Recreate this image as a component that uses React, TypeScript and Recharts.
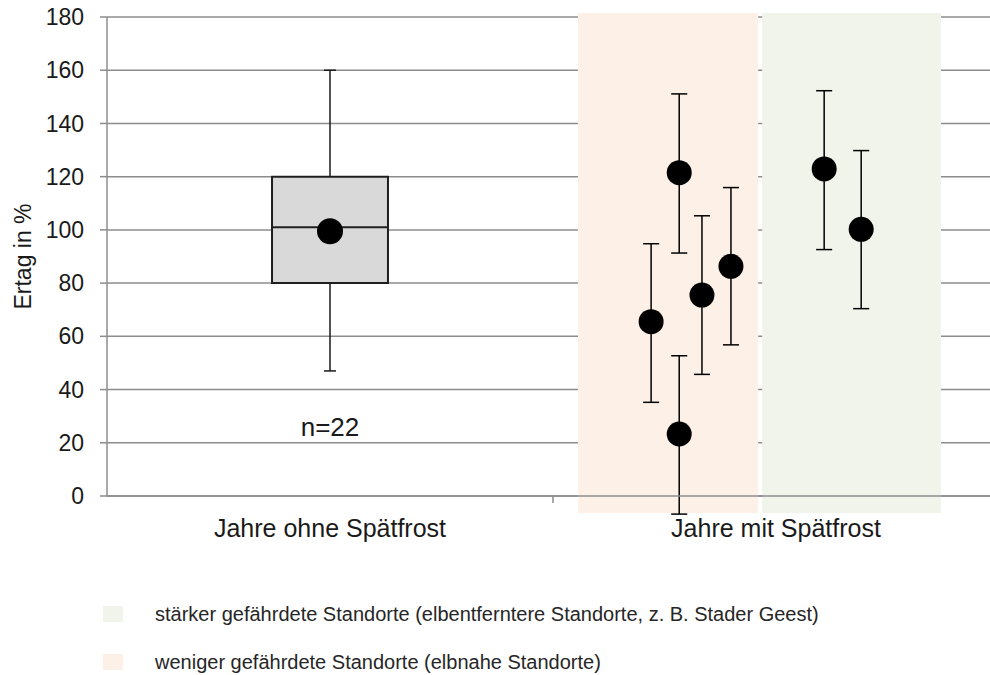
import React from "react";
import {
  ComposedChart,
  Scatter,
  XAxis,
  YAxis,
  CartesianGrid,
  ReferenceArea,
  ReferenceLine,
  ReferenceDot,
} from "recharts";

const FONT = "'Liberation Sans', Arial, sans-serif";
const GRID = "#8c8c8c";

const yTicks = [0, 20, 40, 60, 80, 100, 120, 140, 160, 180];
const categoryX = [0.5, 1.5];
const categoryLabels = ["Jahre ohne Spätfrost", "Jahre mit Spätfrost"];

// box plot for the years without late frost
const boxX = [0.37, 0.63];
const boxQ = [80, 120];
const boxWhisker = [47, 160];
const boxMedian = 101;
const boxMean = 99.5;
const boxN = "n=22";

// single years with late frost
const frostX = [1.22, 1.283, 1.283, 1.334, 1.399, 1.608, 1.691];
const frostMean = [65.5, 121.5, 23.3, 75.5, 86.3, 122.9, 100.2];
const frostLow = [35.2, 91.3, -6.8, 45.7, 56.8, 92.6, 70.4];
const frostHigh = [94.8, 151.1, 52.7, 105.3, 115.9, 152.3, 129.8];

// shaded site groups
const zoneLess = [1.056, 1.46];
const zoneMore = [1.469, 1.87];
const zoneY = [-6.4, 181.5];

const legendItems = [
  { color: "#F1F4EA", text: "stärker gefährdete Standorte (elbentferntere Standorte, z. B. Stader Geest)" },
  { color: "#FDF0E7", text: "weniger gefährdete Standorte (elbnahe Standorte)" },
];

const frostPoints = frostX.map((x, i) => ({ x, y: frostMean[i] }));
const meanPoint = [{ x: categoryX[0], y: boxMean }];

const CAP_BOX = 0.0135;
const CAP_FROST = 0.018;

function XTick(props: any) {
  const { x, y, payload } = props;
  if (payload.value === 1) {
    return <line x1={x} x2={x} y1={y} y2={y + 7} stroke={GRID} strokeWidth={1.5} />;
  }
  const idx = categoryX.indexOf(payload.value);
  return (
    <text x={x} y={y + 41} textAnchor="middle" fill="#1a1a1a" fontSize={25} fontFamily={FONT}>
      {categoryLabels[idx]}
    </text>
  );
}

function YLabel(props: any) {
  const { viewBox } = props;
  const cy = viewBox.y + viewBox.height / 2;
  return (
    <text
      x={31}
      y={cy}
      transform={`rotate(-90 31 ${cy})`}
      textAnchor="middle"
      fill="#1a1a1a"
      fontSize={23}
      fontFamily={FONT}
    >
      Ertag in %
    </text>
  );
}

const dot = (r: number) => (p: any) => <circle cx={p.cx} cy={p.cy} r={r} fill="#000" />;

function seg(x1: number, y1: number, x2: number, y2: number, key: string, color = "#000") {
  return (
    <ReferenceLine
      key={key}
      segment={[{ x: x1, y: y1 }, { x: x2, y: y2 }]}
      stroke={color}
      strokeWidth={1.5}
      ifOverflow="visible"
    />
  );
}

export default function App() {
  return (
    <div style={{ position: "absolute", left: 0, top: 0, width: 990, height: 675, overflow: "hidden", background: "#fff" }}>
      <ComposedChart width={1000} height={675} margin={{ top: 17, right: 1, bottom: 129, left: 0 }}>
        <ReferenceArea x1={zoneLess[0]} x2={zoneLess[1]} y1={zoneY[0]} y2={zoneY[1]} fill="#FDF0E7" fillOpacity={1} stroke="none" ifOverflow="visible" />
        <ReferenceArea x1={zoneMore[0]} x2={zoneMore[1]} y1={zoneY[0]} y2={zoneY[1]} fill="#F1F4EA" fillOpacity={1} stroke="none" ifOverflow="visible" />
        <CartesianGrid vertical={false} stroke={GRID} strokeWidth={1.5} />
        <XAxis
          type="number"
          dataKey="x"
          domain={[0, 2]}
          ticks={[categoryX[0], 1, categoryX[1]]}
          height={50}
          axisLine={{ stroke: GRID, strokeWidth: 1.5 }}
          tickLine={false}
          tickSize={0}
          tickMargin={0}
          tick={<XTick />}
          interval={0}
        />
        <YAxis
          type="number"
          dataKey="y"
          domain={[0, 180]}
          ticks={yTicks}
          width={107}
          axisLine={{ stroke: GRID, strokeWidth: 1.5 }}
          tickLine={{ stroke: GRID, strokeWidth: 1.5 }}
          tickSize={7}
          tickMargin={16}
          tick={{ fill: "#1a1a1a", fontSize: 23, fontFamily: FONT }}
          interval={0}
          label={<YLabel />}
        />
        {/* whiskers of the box plot */}
        {seg(categoryX[0], boxQ[1], categoryX[0], boxWhisker[1], "wu", "#1a1a1a")}
        {seg(categoryX[0], boxWhisker[0], categoryX[0], boxQ[0], "wl", "#1a1a1a")}
        {seg(categoryX[0] - CAP_BOX, boxWhisker[1], categoryX[0] + CAP_BOX, boxWhisker[1], "cu", "#1a1a1a")}
        {seg(categoryX[0] - CAP_BOX, boxWhisker[0], categoryX[0] + CAP_BOX, boxWhisker[0], "cl", "#1a1a1a")}
        <ReferenceArea x1={boxX[0]} x2={boxX[1]} y1={boxQ[0]} y2={boxQ[1]} fill="#D9D9D9" fillOpacity={1} stroke="#1f1f1f" strokeWidth={2} />
        <ReferenceLine segment={[{ x: boxX[0], y: boxMedian }, { x: boxX[1], y: boxMedian }]} stroke="#1f1f1f" strokeWidth={2} />
        <ReferenceDot
          x={categoryX[0]}
          y={26}
          r={0}
          stroke="none"
          label={{ value: boxN, position: "center", fill: "#1a1a1a", fontSize: 26, fontFamily: FONT }}
        />
        {/* error bars of the frost years */}
        {frostX.map((x, i) => seg(x, frostLow[i], x, frostHigh[i], `e${i}`))}
        {frostX.map((x, i) => seg(x - CAP_FROST, frostLow[i], x + CAP_FROST, frostLow[i], `l${i}`))}
        {frostX.map((x, i) => seg(x - CAP_FROST, frostHigh[i], x + CAP_FROST, frostHigh[i], `h${i}`))}
        <Scatter data={meanPoint} shape={dot(13)} isAnimationActive={false} />
        <Scatter data={frostPoints} shape={dot(12.5)} isAnimationActive={false} />
      </ComposedChart>
      {legendItems.map((item, i) => (
        <div
          key={item.text}
          style={{
            position: "absolute",
            left: 103,
            top: 604 + i * 48,
            height: 20,
            display: "flex",
            alignItems: "center",
            fontFamily: FONT,
            fontSize: 20,
            color: "#262626",
            whiteSpace: "nowrap",
          }}
        >
          <span style={{ width: 20, height: 16, background: item.color, marginRight: 32 }} />
          {item.text}
        </div>
      ))}
    </div>
  );
}
